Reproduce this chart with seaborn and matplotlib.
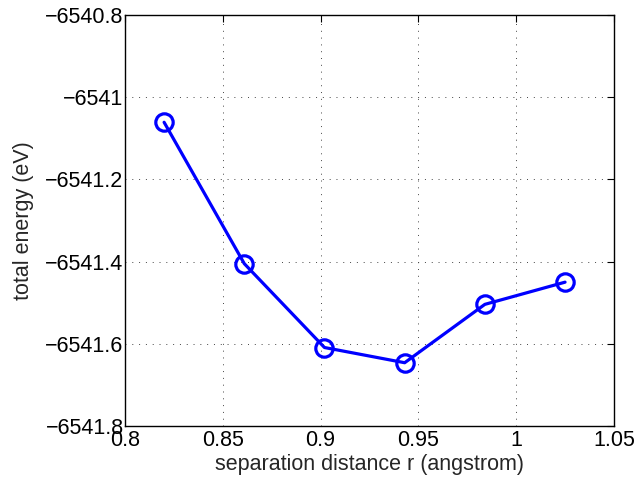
import numpy as np
import pandas as pd
import matplotlib
matplotlib.use('Agg')
import matplotlib.pyplot as plt
import seaborn as sns
from matplotlib.ticker import FuncFormatter, MultipleLocator

# separation distance (angstrom) vs total energy (eV)
separation = [0.820, 0.861, 0.902, 0.943, 0.984, 1.025]
energy = [-6541.061, -6541.405, -6541.609, -6541.646, -6541.504, -6541.450]

data = pd.DataFrame({'r': separation, 'E': energy})

sns.set_style('white')
plt.rcParams['font.family'] = ['Liberation Sans', 'DejaVu Sans']
plt.rcParams['axes.unicode_minus'] = True

fig = plt.figure(figsize=(6.39, 4.79), dpi=100)
ax = fig.add_axes([0.1956, 0.1106, 0.7652, 0.8581])

sns.lineplot(data=data, x='r', y='E', ax=ax, color='#0000ff', linewidth=2.3,
             marker='o', markersize=12.5, markerfacecolor='none',
             markeredgecolor='#0000ff', markeredgewidth=2.3)

ax.set_xlim(0.8, 1.05)
ax.set_ylim(-6541.8, -6540.8)
ax.xaxis.set_major_locator(MultipleLocator(0.05))
ax.yaxis.set_major_locator(MultipleLocator(0.2))
fmt = FuncFormatter(lambda v, p: ('%g' % round(v, 4)).replace('-', '\u2212'))
ax.xaxis.set_major_formatter(fmt)
ax.yaxis.set_major_formatter(fmt)

ax.grid(True, linestyle=(0, (1, 6)), color='#444444', linewidth=0.7)
ax.tick_params(direction='in', length=5, width=0.8, top=True, right=True,
               labelsize=15.5, colors='black')
ax.tick_params(axis='x', pad=3)
ax.tick_params(axis='y', pad=1)
for s in ax.spines.values():
    s.set_color('black')
    s.set_linewidth(1.0)

ax.set_xlabel('separation distance r (angstrom)', fontsize=15.5, labelpad=2)
ax.set_ylabel('total energy (eV)', fontsize=15.5, labelpad=8)

fig.savefig('out.png', dpi=100)
plt.close()
